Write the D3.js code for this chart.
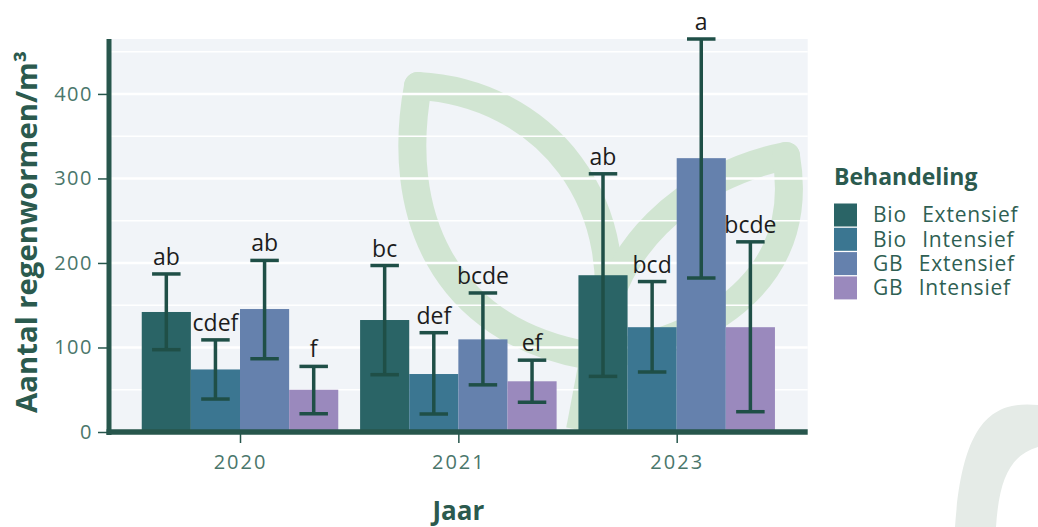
<!DOCTYPE html>
<html>
<head>
<meta charset="utf-8">
<script src="https://cdn.jsdelivr.net/npm/d3@7"></script>
<style>
  body { margin: 0; background: #fff; }
  svg { display: block; font-family: "Open Sans", Lato, sans-serif; }
</style>
</head>
<body>
<svg id="chart" width="1038" height="527"></svg>
<script>
// data
var years = ["2020", "2021", "2023"];
var treatments = ["Bio Extensief", "Bio Intensief", "GB Extensief", "GB Intensief"];
var colors = ["#2a6466", "#3b7691", "#6581ad", "#9a89bd"];

// one row per year, one column per treatment
var meanValues  = [[142, 74, 145.5, 50], [132.5, 68.6, 109.6, 60], [185.5, 124, 324, 124]];
var lowerValues = [[97.4, 39, 86.7, 21.6], [67.8, 21.3, 55.8, 35.2], [65.8, 71, 182.2, 24]];
var upperValues = [[187, 109, 203, 77.6], [197, 117.5, 164.5, 85], [305.5, 178, 465, 225]];
var letters     = [["ab", "cdef", "ab", "f"], ["bc", "def", "bcde", "ef"], ["ab", "bcd", "a", "bcde"]];

var yTicks = [0, 100, 200, 300, 400];
var yMinor = [50, 150, 250, 350, 450];

var svg = d3.select("#chart");

var panel = {left: 109, right: 807.7, top: 39, bottom: 432};

var x = d3.scalePoint().domain(years).range([panel.left, panel.right]).padding(0.6);
var step = x.step();
var xInner = d3.scaleBand().domain(treatments).range([-0.45 * step, 0.45 * step]).padding(0);
var y = d3.scaleLinear().domain([0, 465]).range([panel.bottom, panel.top]);

// bottom-right decoration
svg.append("path")
  .attr("d", "M1038,405 C990,400 962,425 955,527 L996,527 C999,480 1010,455 1038,447 Z")
  .attr("fill", "#e5ebe7");

// panel background
svg.append("rect")
  .attr("x", panel.left).attr("y", panel.top)
  .attr("width", panel.right - panel.left).attr("height", panel.bottom - panel.top)
  .attr("fill", "#f1f4f8");

// leaf watermark behind the bars
var leaf = svg.append("g")
  .attr("fill", "none")
  .attr("stroke", "#d1e5d2")
  .attr("stroke-width", 28)
  .attr("stroke-linecap", "round")
  .attr("stroke-linejoin", "round");
leaf.append("path").attr("d", "M418,86 C395,210 440,330 590,356");
leaf.append("path").attr("d", "M418,86 C540,92 640,200 600,356");
leaf.append("path").attr("d", "M600,356 C600,250 690,175 786,156");
leaf.append("path").attr("d", "M786,156 C805,265 730,335 600,356");
leaf.append("path").attr("d", "M594,356 L580,430").attr("stroke-linecap", "butt");

// gridlines
svg.append("g").selectAll("line").data(yMinor).join("line")
  .attr("x1", panel.left).attr("x2", panel.right)
  .attr("y1", d => y(d)).attr("y2", d => y(d))
  .attr("stroke", "#fff").attr("stroke-width", 1.5);
svg.append("g").selectAll("line").data(yTicks).join("line")
  .attr("x1", panel.left).attr("x2", panel.right)
  .attr("y1", d => y(d)).attr("y2", d => y(d))
  .attr("stroke", "#fff").attr("stroke-width", 2.5);

// bars, error bars and letters
var groups = svg.append("g").selectAll("g").data(years).join("g")
  .attr("transform", d => "translate(" + x(d) + ",0)");

var cells = groups.selectAll("g.cell")
  .data((yr, i) => treatments.map((t, j) => ({
    t: t, j: j,
    mean: meanValues[i][j], lo: lowerValues[i][j], hi: upperValues[i][j], label: letters[i][j]
  })))
  .join("g").attr("class", "cell");

cells.append("rect")
  .attr("x", d => xInner(d.t))
  .attr("width", xInner.bandwidth())
  .attr("y", d => y(d.mean))
  .attr("height", d => y(0) - y(d.mean))
  .attr("fill", d => colors[d.j]);

var cap = xInner.bandwidth() * 0.29;
var errColor = "#1f4f47";
cells.append("line")
  .attr("x1", d => xInner(d.t) + xInner.bandwidth() / 2)
  .attr("x2", d => xInner(d.t) + xInner.bandwidth() / 2)
  .attr("y1", d => y(d.lo)).attr("y2", d => y(d.hi))
  .attr("stroke", errColor).attr("stroke-width", 3.5);
["lo", "hi"].forEach(function(k) {
  cells.append("line")
    .attr("x1", d => xInner(d.t) + xInner.bandwidth() / 2 - cap)
    .attr("x2", d => xInner(d.t) + xInner.bandwidth() / 2 + cap)
    .attr("y1", d => y(d[k])).attr("y2", d => y(d[k]))
    .attr("stroke", errColor).attr("stroke-width", 3.5);
});

cells.append("text")
  .attr("x", d => xInner(d.t) + xInner.bandwidth() / 2)
  .attr("y", d => y(d.hi) - 9)
  .attr("text-anchor", "middle")
  .attr("font-size", 23)
  .attr("fill", "#1c1c1c")
  .text(d => d.label);

// axes
var axisColor = "#27564c";
var tickText = "#4a766b";

var yAxis = svg.append("g")
  .attr("transform", "translate(" + panel.left + ",0)")
  .call(d3.axisLeft(y).tickValues(yTicks).tickSize(11).tickPadding(5));
yAxis.select(".domain").remove();
yAxis.selectAll(".tick line").attr("stroke", axisColor).attr("stroke-width", 1.5);
yAxis.selectAll(".tick text")
  .attr("fill", tickText).attr("font-size", 20).attr("letter-spacing", 1.5)
  .attr("font-family", "'Open Sans', sans-serif");

var xAxis = svg.append("g")
  .attr("transform", "translate(0," + panel.bottom + ")")
  .call(d3.axisBottom(x).tickSize(11).tickPadding(12));
xAxis.select(".domain").remove();
xAxis.selectAll(".tick line").attr("stroke", axisColor).attr("stroke-width", 1.5);
xAxis.selectAll(".tick text")
  .attr("fill", tickText).attr("font-size", 20).attr("letter-spacing", 2)
  .attr("font-family", "'Open Sans', sans-serif");

// thick axis lines
svg.append("line")
  .attr("x1", panel.left).attr("x2", panel.left)
  .attr("y1", panel.top).attr("y2", panel.bottom + 3)
  .attr("stroke", axisColor).attr("stroke-width", 5);
svg.append("line")
  .attr("x1", panel.left - 2.5).attr("x2", panel.right)
  .attr("y1", panel.bottom).attr("y2", panel.bottom)
  .attr("stroke", axisColor).attr("stroke-width", 5.5);

// axis titles
svg.append("text")
  .attr("transform", "translate(37,232) rotate(-90)")
  .attr("text-anchor", "middle")
  .attr("font-size", 28).attr("font-weight", 700)
  .attr("textLength", 362).attr("lengthAdjust", "spacingAndGlyphs")
  .attr("fill", "#2b5a4e")
  .text("Aantal regenwormen/m³");

svg.append("text")
  .attr("x", x("2021")).attr("y", 520)
  .attr("text-anchor", "middle")
  .attr("font-size", 26).attr("font-weight", 700)
  .attr("fill", "#2b5a4e")
  .text("Jaar");

// legend
var legend = svg.append("g").attr("transform", "translate(834,0)");
legend.append("text")
  .attr("x", 0).attr("y", 185)
  .attr("font-size", 23).attr("font-weight", 700)
  .attr("fill", "#2b5a4e")
  .text("Behandeling");
var items = legend.selectAll("g.item").data(treatments).join("g")
  .attr("class", "item")
  .attr("transform", (d, i) => "translate(0," + (203.5 + i * 24.3) + ")");
items.append("rect")
  .attr("width", 23).attr("height", 23)
  .attr("fill", (d, i) => colors[i]);
items.append("text")
  .attr("x", 39).attr("y", 11.5).attr("dy", "0.35em")
  .attr("font-size", 21).attr("word-spacing", 9).attr("letter-spacing", 0.8)
  .attr("fill", "#2f5f53")
  .text(d => d);
</script>
</body>
</html>
